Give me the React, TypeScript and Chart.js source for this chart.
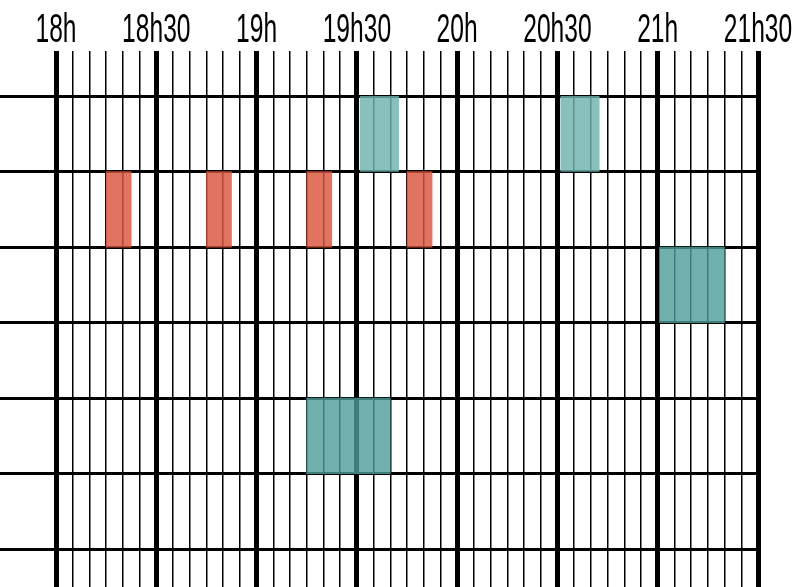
import { useEffect, useRef } from 'react';
import { Chart, registerables } from 'chart.js';

Chart.register(...registerables);

// Time axis: minutes after 18h00
const TIME_LABELS = ['18h', '18h30', '19h', '19h30', '20h', '20h30', '21h', '21h30'];
const TIME_MIN = 0;
const TIME_MAX = 210;
const MINOR_STEP = 5;
const MAJOR_STEP = 30;

// Rows (0 = top row); the last row is cut by the page edge
const ROW_COUNT_VISIBLE = 6.5;

// Red events (row 1)
const redRows = [1, 1, 1, 1];
const redStarts = [15, 45, 75, 105];
const redEnds = [22.5, 52.5, 82.5, 112.5];

// Light teal events (row 0)
const lightRows = [0, 0];
const lightStarts = [91, 151];
const lightEnds = [102.5, 162.5];

// Teal events (rows 2 and 4)
const tealRows = [2, 4];
const tealStarts = [180.5, 75];
const tealEnds = [200, 100];

function toPoints(rows: number[], starts: number[], ends: number[]) {
  return rows.map((r, i) => ({ x: [starts[i], ends[i]], y: r + 0.5 }));
}

// Draws the condensed time labels above the top axis
const condensedLabels = {
  id: 'condensedLabels',
  afterDraw(chart: any) {
    const scale = chart.scales.x;
    const ctx = chart.ctx;
    ctx.save();
    ctx.fillStyle = '#000';
    ctx.font = '41px "Liberation Sans", Arial, sans-serif';
    ctx.textAlign = 'center';
    ctx.textBaseline = 'alphabetic';
    TIME_LABELS.forEach((label, i) => {
      const x = scale.getPixelForValue(TIME_MIN + i * MAJOR_STEP);
      ctx.save();
      ctx.translate(x, 42);
      ctx.scale(0.6, 1);
      ctx.fillText(label, 0, 0);
      ctx.restore();
    });
    ctx.restore();
  },
};

export default function App() {
  const ref = useRef<HTMLCanvasElement | null>(null);

  useEffect(() => {
    document.body.style.margin = '0';
    const canvas = ref.current;
    if (!canvas) return;
    const common = {
      borderWidth: 0,
      grouped: false,
      barPercentage: 1,
      categoryPercentage: 1,
    };
    const chart = new Chart(canvas, {
      type: 'bar',
      data: {
        datasets: [
          {
            label: 'light',
            data: toPoints(lightRows, lightStarts, lightEnds) as any,
            backgroundColor: 'rgba(108,178,173,0.82)',
            ...common,
          },
          {
            label: 'red',
            data: toPoints(redRows, redStarts, redEnds) as any,
            backgroundColor: 'rgba(219,84,62,0.82)',
            ...common,
          },
          {
            label: 'teal',
            data: toPoints(tealRows, tealStarts, tealEnds) as any,
            backgroundColor: 'rgba(78,158,152,0.8)',
            ...common,
          },
        ] as any,
      },
      options: {
        indexAxis: 'y',
        animation: false,
        responsive: false,
        layout: { padding: { top: 51, left: 0, bottom: 0, right: 36 } },
        plugins: { legend: { display: false }, tooltip: { enabled: false } },
        scales: {
          x: {
            type: 'linear',
            position: 'top',
            min: TIME_MIN,
            max: TIME_MAX,
            offset: false,
            border: { display: false },
            grid: {
              color: '#000',
              offset: false,
              lineWidth: (ctx: any) => (ctx.tick && ctx.tick.value % MAJOR_STEP === 0 ? 5 : 1.5),
              tickLength: 45,
            },
            ticks: {
              stepSize: MINOR_STEP,
              autoSkip: false,
              display: false,
              callback: (value: any) =>
                value % MAJOR_STEP === 0 ? TIME_LABELS[value / MAJOR_STEP] : '',
            },
          },
          y: {
            type: 'linear',
            reverse: true,
            min: 0,
            max: ROW_COUNT_VISIBLE,
            offset: false,
            border: { display: false },
            afterBuildTicks: (scale: any) => {
              scale.ticks = scale.ticks.filter((t: any) => Number.isInteger(t.value));
            },
            grid: {
              color: '#000',
              offset: false,
              lineWidth: 3,
              tickLength: 56,
            },
            ticks: { stepSize: 1, display: false },
          },
        },
      },
      plugins: [condensedLabels],
    });
    return () => chart.destroy();
  }, []);

  return (
    <div style={{ width: 794, height: 587 }}>
      <canvas ref={ref} width={794} height={587} style={{ display: 'block' }} />
    </div>
  );
}
